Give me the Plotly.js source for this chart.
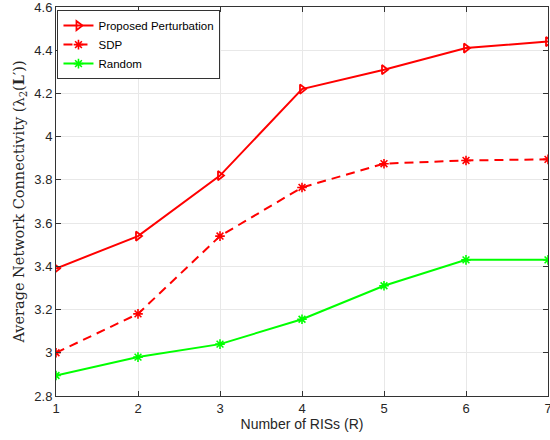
<!DOCTYPE html>
<html>
<head>
<meta charset="utf-8">
<script src="https://cdn.plot.ly/plotly-3.0.1.min.js"></script>
<style>
  html, body { margin: 0; padding: 0; background: #fff; }
  #chart { width: 550px; height: 440px; }
</style>
</head>
<body>
<div id="chart"></div>
<script>
// Number of RISs
const risCount = [1, 2, 3, 4, 5, 6, 7];

// Average network connectivity per method
const proposed = [3.39, 3.54, 3.82, 4.22, 4.31, 4.41, 4.44];
const sdp      = [3.00, 3.18, 3.54, 3.765, 3.875, 3.89, 3.895];
const random   = [2.895, 2.98, 3.04, 3.155, 3.31, 3.43, 3.43];

const yTickVals = [2.8, 3, 3.2, 3.4, 3.6, 3.8, 4, 4.2, 4.4, 4.6];
const yTickText = ['2.8', '3', '3.2', '3.4', '3.6', '3.8', '4', '4.2', '4.4', '4.6'];
const xTickVals = [1, 2, 3, 4, 5, 6, 7];

const sans = 'Liberation Sans, Arial, sans-serif';
const serif = 'DejaVu Serif, Liberation Serif, serif';

const traces = [
  {
    x: risCount, y: proposed, name: 'Proposed Perturbation',
    mode: 'lines+markers',
    line: { color: '#ff0000', width: 2 },
    marker: { symbol: 'triangle-right-open', size: 8, color: '#ff0000', line: { width: 1.8, color: '#ff0000' } }
  },
  {
    x: risCount, y: sdp, name: 'SDP',
    mode: 'lines+markers',
    line: { color: '#ff0000', width: 2, dash: '9px,6px' },
    marker: { symbol: 'asterisk-open', size: 8, color: '#ff0000', line: { width: 1.6, color: '#ff0000' } }
  },
  {
    x: risCount, y: random, name: 'Random',
    mode: 'lines+markers',
    line: { color: '#00ff00', width: 2 },
    marker: { symbol: 'asterisk-open', size: 8, color: '#00ff00', line: { width: 1.6, color: '#00ff00' } }
  }
];

const axisCommon = {
  showline: true, linecolor: '#333333', linewidth: 1, mirror: 'ticks',
  ticks: 'inside', ticklen: 5, tickcolor: '#333333', tickwidth: 1,
  showgrid: true, gridcolor: '#e8e8e8', gridwidth: 1,
  zeroline: false, ticklabeloverflow: 'allow',
  tickfont: { family: sans, size: 13, color: '#262626' }
};

const layout = {
  width: 550, height: 440,
  margin: { l: 56, r: 2, t: 7, b: 44 },
  paper_bgcolor: '#ffffff', plot_bgcolor: '#ffffff',
  showlegend: true,
  legend: {
    x: 0.003, y: 0.992, xanchor: 'left', yanchor: 'top',
    bgcolor: '#ffffff', bordercolor: '#333333', borderwidth: 1,
    font: { family: sans, size: 11.5, color: '#000000' },
    tracegroupgap: 0
  },
  xaxis: Object.assign({}, axisCommon, {
    range: [1, 7], tickvals: xTickVals,
    title: { text: 'Number of RISs (R)', font: { family: sans, size: 14, color: '#262626' }, standoff: 4 }
  }),
  yaxis: Object.assign({}, axisCommon, {
    range: [2.8, 4.6], tickvals: yTickVals, ticktext: yTickText,
    title: { text: 'Average Network Connectivity (λ<sub>2</sub>(<b>L</b>′))', font: { family: serif, size: 14.5, color: '#262626' }, standoff: 6 }
  })
};

Plotly.newPlot('chart', traces, layout, { displayModeBar: false, staticPlot: true });
</script>
</body>
</html>
